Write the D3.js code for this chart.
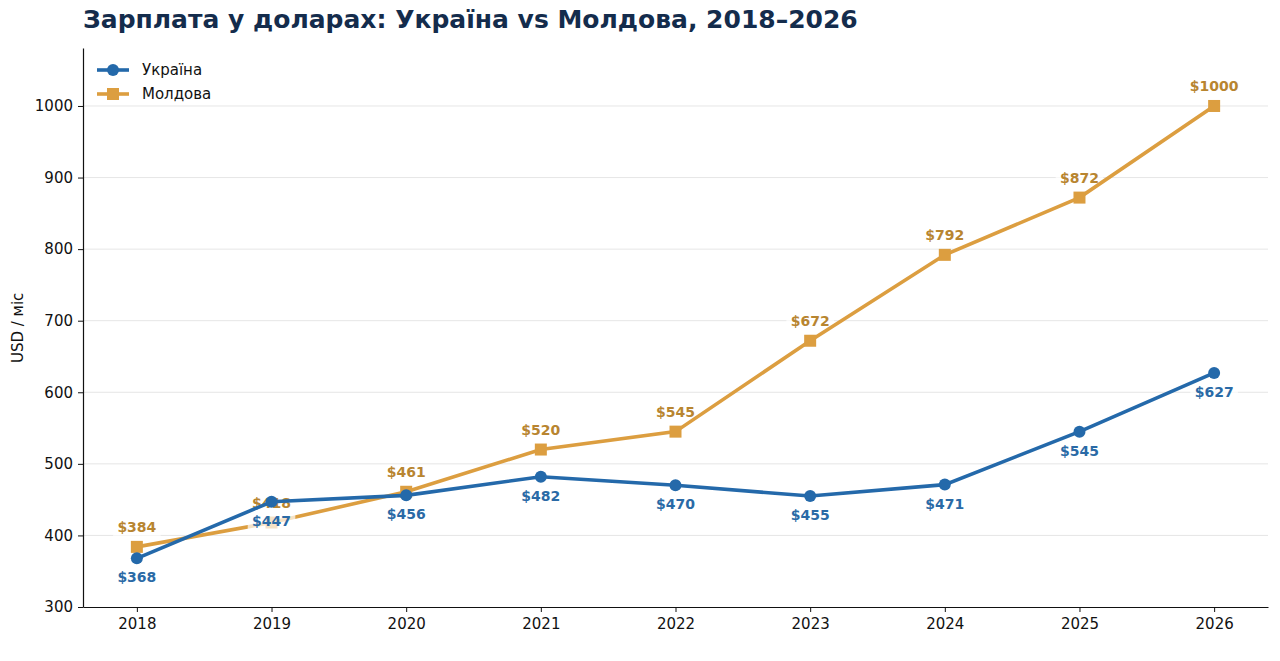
<!DOCTYPE html>
<html>
<head>
<meta charset="utf-8">
<script src="https://cdn.jsdelivr.net/npm/d3@7"></script>
<style>
  body { margin: 0; background: #fff; }
  text { font-family: "DejaVu Sans", sans-serif; }
</style>
</head>
<body>
<div id="chart"></div>
<script>
const years = [2018, 2019, 2020, 2021, 2022, 2023, 2024, 2025, 2026];
const ukraine = [368, 447, 456, 482, 470, 455, 471, 545, 627];
const moldova = [384, 418, 461, 520, 545, 672, 792, 872, 1000];
const yTicks = [300, 400, 500, 600, 700, 800, 900, 1000];

const W = 1280, H = 661;
const margin = {top: 48, right: 12, bottom: 54, left: 83};
const width = W - margin.left - margin.right,
      height = H - margin.top - margin.bottom;

const svg = d3.select("#chart").append("svg")
    .attr("width", W).attr("height", H);

svg.append("text")
    .attr("x", 83).attr("y", 28)
    .style("font-size", "25px").style("font-weight", "bold")
    .attr("fill", "#142c4c")
    .text("Зарплата у доларах: Україна vs Молдова, 2018–2026");

const g = svg.append("g").attr("transform", `translate(${margin.left},${margin.top})`);

const x = d3.scaleLinear().domain([2017.6, 2026.4]).range([0, width]);
const y = d3.scaleLinear().domain([300, 1081]).range([height, 0]);

// grid
g.append("g").selectAll("line").data(yTicks.filter(d => d > 300)).enter().append("line")
    .attr("x1", 0).attr("x2", width)
    .attr("y1", d => y(d)).attr("y2", d => y(d))
    .attr("stroke", "#e6e6e6").attr("stroke-width", 1);

const xAxis = g.append("g").attr("transform", `translate(0,${height})`)
    .call(d3.axisBottom(x).tickValues(years).tickFormat(d3.format("d")).tickSize(5).tickPadding(6).tickSizeOuter(0));
const yAxis = g.append("g")
    .call(d3.axisLeft(y).tickValues(yTicks).tickFormat(d3.format("d")).tickSize(5).tickPadding(5).tickSizeOuter(0));
[xAxis, yAxis].forEach(a => {
  a.selectAll("text").style("font-size", "15px").style("font-family", "DejaVu Sans").attr("fill", "#111");
  a.select(".domain").attr("stroke", "#111").attr("stroke-width", 1.2);
  a.selectAll(".tick line").attr("stroke", "#111");
});

svg.append("text")
    .attr("transform", `translate(23,${margin.top + y(690)}) rotate(-90)`)
    .attr("text-anchor", "middle")
    .style("font-size", "15px").attr("fill", "#111")
    .text("USD / міс");

const series = [
  {name: "Україна", values: ukraine, color: "#2469aa", labelColor: "#2a6aa6", shape: "circle", dy: 24},
  {name: "Молдова", values: moldova, color: "#dc9e40", labelColor: "#b88530", shape: "square", dy: -15}
];

const line = d3.line().x((d, i) => x(years[i])).y(d => y(d));

function drawSeries(s) {
  g.append("path").datum(s.values)
      .attr("fill", "none").attr("stroke", s.color).attr("stroke-width", 3.6)
      .attr("d", line);
  if (s.shape === "circle") {
    g.append("g").selectAll("circle").data(s.values).enter().append("circle")
        .attr("cx", (d, i) => x(years[i])).attr("cy", d => y(d)).attr("r", 6)
        .attr("fill", s.color);
  } else {
    g.append("g").selectAll("rect").data(s.values).enter().append("rect")
        .attr("x", (d, i) => x(years[i]) - 6).attr("y", d => y(d) - 6)
        .attr("width", 12).attr("height", 12).attr("fill", s.color);
  }
}

function drawLabels(s) {
  const lg = g.append("g").selectAll("g").data(s.values).enter().append("g")
      .attr("transform", (d, i) => `translate(${x(years[i])},${y(d) + s.dy})`);
  lg.append("rect")
      .attr("x", d => -(String(d).length + 1) * 5.2 - 3).attr("y", -12)
      .attr("width", d => (String(d).length + 1) * 10.4 + 6).attr("height", 16)
      .attr("fill", "#fff").attr("opacity", 0.7);
  lg.append("text")
      .attr("text-anchor", "middle")
      .style("font-size", "14px").style("font-weight", "bold")
      .attr("fill", s.labelColor)
      .text(d => "$" + d);
}

// labels sit under their own line, Ukraine labels above the Moldova line
drawLabels(series[1]);
drawSeries(series[1]);
drawLabels(series[0]);
drawSeries(series[0]);

// legend
const leg = svg.append("g").attr("transform", "translate(97,70)");
series.forEach((s, i) => {
  const r = leg.append("g").attr("transform", `translate(0,${i * 24})`);
  r.append("line").attr("x1", 0).attr("x2", 32).attr("stroke", s.color).attr("stroke-width", 3.6);
  if (s.shape === "circle") r.append("circle").attr("cx", 16).attr("r", 6).attr("fill", s.color);
  else r.append("rect").attr("x", 10).attr("y", -6).attr("width", 12).attr("height", 12).attr("fill", s.color);
  r.append("text").attr("x", 45).attr("y", 5).style("font-size", "15px").attr("fill", "#111").text(s.name);
});
</script>
</body>
</html>
